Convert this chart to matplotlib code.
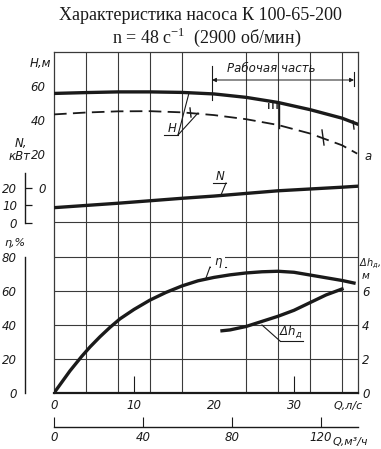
import matplotlib
matplotlib.use('Agg')
import matplotlib.pyplot as plt
from matplotlib.patches import Rectangle
from matplotlib import font_manager

# ---------------- data ----------------
Q_H = [0, 4, 8, 12, 16, 20, 24, 28, 32, 36, 38]
H = [55.7, 56.2, 56.6, 56.6, 56.3, 55.4, 53.4, 50.4, 46.2, 41.2, 37.6]
Q_Ha = [0, 4, 8, 12, 16, 20, 24, 28, 32, 36, 37.9]
H_a = [43.4, 44.5, 45.2, 45.3, 44.6, 43.0, 40.6, 37.2, 32.2, 25.3, 20.4]
Q_N = [0, 8, 16, 20, 28, 36, 38]
N = [8.7, 11.3, 14.2, 15.5, 18.6, 20.7, 21.3]
Q_eta = [0, 1, 2, 3.45, 4.5, 5.75, 7, 8.25, 10, 12, 14, 16, 18, 20, 22, 24, 26, 28, 30,
         32, 34, 36, 37.5]
eta = [0, 6.5, 13.0, 21.4, 27.0, 33.0, 38.5, 43.5, 49.0, 54.5, 59.0, 62.8, 65.8, 67.8,
       69.3, 70.4, 71.1, 71.4, 70.8, 69.2, 67.6, 66.0, 64.5]
Q_dh = [21, 22, 24, 26, 28, 30, 32, 34, 36]
dh = [3.65, 3.7, 3.9, 4.2, 4.5, 4.85, 5.3, 5.75, 6.1]

H_ticks = [0, 20, 40, 60]
N_ticks = [0, 10, 20]
eta_ticks = [0, 20, 40, 60, 80]
dh_ticks = [0, 2, 4, 6]
Q_ticks = [0, 10, 20, 30]
Qm_ticks = [0, 40, 80, 120]

# ---------------- fonts ----------------
avail = {f.name for f in font_manager.fontManager.ttflist}
LAB = 'Liberation Sans Narrow' if 'Liberation Sans Narrow' in avail else 'DejaVu Sans'
SERIF = 'Liberation Serif'
plt.rcParams['font.family'] = [LAB, 'DejaVu Sans']
plt.rcParams['font.style'] = 'italic'
plt.rcParams['font.size'] = 8.5
FS = 8.5
INK = '#1a1a1a'
GRID = '#3a3a3a'

W, HH = 381, 449
fig = plt.figure(figsize=(W / 100, HH / 100), dpi=100)
L, R, T, B = 54, 358, 52, 393
ax = fig.add_axes([L / W, (HH - B) / HH, (R - L) / W, (B - T) / HH])
PT = 72 / 100  # points per pixel


def fa(x, y):
    """pixel -> axes fraction"""
    return (x - L) / (R - L), (B - y) / (B - T)


# main axes: Q [l/s] vs H [m]
ax.set_xlim(0, 38)
ax.set_ylim(-120, 80)
ax.set_xticks([4 * i for i in range(1, 10)], minor=True)
ax.set_yticks([-120 + 20 * i for i in range(1, 10)], minor=True)
ax.grid(which='minor', color=GRID, lw=0.8)
ax.set_xticks(Q_ticks)
ax.set_xticklabels([str(v) for v in Q_ticks])
ax.set_yticks(H_ticks)
ax.set_yticklabels([str(v) for v in H_ticks])
ax.tick_params(axis='both', which='major', length=0, labelsize=FS, colors=INK)
ax.tick_params(axis='y', which='major', pad=6)
ax.tick_params(axis='x', which='major', pad=4)
ax.tick_params(axis='both', which='minor', length=0)
for s in ['top', 'left', 'right']:
    ax.spines[s].set_color(GRID)
    ax.spines[s].set_linewidth(0.9)
ax.spines['bottom'].set_linewidth(1.6)
ax.spines['bottom'].set_color(INK)
# small ticks at 10 and 30 l/s
for q in [10, 30]:
    ax.plot([q, q], [-120, -110], color=INK, lw=0.8, solid_capstyle='butt')

ax.plot(Q_H, H, color=INK, lw=2.4, solid_capstyle='round', zorder=5)
ax.plot(Q_Ha, H_a, color=INK, lw=1.3, dashes=(7, 3.5), zorder=5)


def left_axis(a, lo, hi):
    a.yaxis.tick_left()
    for s in ['top', 'bottom', 'right']:
        a.spines[s].set_visible(False)
    sp = a.spines['left']
    sp.set_visible(True)
    sp.set_position(('outward', 29 * PT))
    sp.set_bounds(lo, hi)
    sp.set_linewidth(1.0)
    sp.set_color(INK)


# N axis
axN = ax.twinx()
axN.set_ylim(-100, 100)
left_axis(axN, 0, 29)
axN.set_yticks(N_ticks)
axN.set_yticklabels([str(v) for v in N_ticks])
axN.tick_params(axis='y', direction='in', length=5, width=0.9, pad=5.5, labelsize=FS, colors=INK)
axN.plot(Q_N, N, color=INK, lw=2.4, zorder=5)

# eta axis
axE = ax.twinx()
axE.set_ylim(0, 200)
left_axis(axE, 0, 80)
axE.set_yticks(eta_ticks)
axE.set_yticklabels([str(v) for v in eta_ticks])
axE.set_yticks([0, 80], minor=True)
axE.tick_params(axis='y', which='major', length=0, pad=6, labelsize=FS, colors=INK)
axE.tick_params(axis='y', which='minor', direction='in', length=6, width=0.9, color=INK)
axE.plot(Q_eta, eta, color=INK, lw=2.4, zorder=5)

# dh axis
axD = ax.twinx()
axD.set_ylim(0, 20)
for s in ['top', 'bottom', 'left', 'right']:
    axD.spines[s].set_visible(False)
axD.set_yticks(dh_ticks)
axD.set_yticklabels([str(v) for v in dh_ticks])
axD.tick_params(axis='y', length=0, pad=3, labelsize=FS, colors=INK)
axD.plot(Q_dh, dh, color=INK, lw=2.4, zorder=5)

# secondary Q axis, m3/h
sec = ax.secondary_xaxis(-(427 - B) / (B - T), functions=(lambda q: q * 3.6, lambda m: m / 3.6))
sec.set_xticks(Qm_ticks)
sec.set_xticklabels([str(v) for v in Qm_ticks])
sec.tick_params(direction='in', length=7, width=0.8, pad=3, labelsize=FS, colors=INK)
sec.spines['bottom'].set_bounds(0, 38 * 3.6)
sec.spines['bottom'].set_linewidth(1.0)
sec.spines['bottom'].set_color(INK)

tA = ax.transAxes
kw = dict(transform=tA, color=INK, style='italic', clip_on=False)

# axis names
ax.text(*fa(334, 406), 'Q,л/с', ha='left', va='center', fontsize=8, **kw)
ax.text(*fa(333, 442), 'Q,м³/ч', ha='left', va='center', fontsize=8, **kw)
ax.text(*fa(40, 63), 'H,м', ha='center', va='center', fontsize=FS, **kw)
ax.text(*fa(21, 143), 'N,', ha='center', va='center', fontsize=FS, **kw)
ax.text(*fa(20, 156), 'кВт', ha='center', va='center', fontsize=FS, **kw)
ax.text(*fa(15, 243), 'η,%', ha='center', va='center', fontsize=8, **kw)
ax.text(*fa(359, 264), r'$\Delta h_{д}$,', ha='left', va='center', fontsize=7, **kw)
ax.text(*fa(362, 276), 'м', ha='left', va='center', fontsize=7.5, **kw)


def seg(p, q, lw=0.8):
    x0, y0 = fa(*p)
    x1, y1 = fa(*q)
    ax.plot([x0, x1], [y0, y1], transform=tA, color=INK, lw=lw, clip_on=False, zorder=6)


# curve labels with leaders
ax.text(*fa(172, 128), 'H', ha='center', va='center', fontsize=FS, **kw)
seg((164, 135), (178, 135))
seg((178, 135), (189, 93))
seg((178, 135), (198, 113))

ax.text(*fa(220, 176), 'N', ha='center', va='center', fontsize=FS, **kw)
seg((213, 183), (226, 183))
seg((226, 183), (221, 195))

ax.text(*fa(218, 261), 'η', ha='center', va='center', fontsize=FS,
        bbox=dict(boxstyle='square,pad=0.25', fc='white', ec='none'), zorder=7, **kw)
seg((210, 267), (226, 267))
seg((210, 267), (206, 278))

ax.text(*fa(291, 332), r'$\Delta h_{д}$', ha='center', va='center', fontsize=FS, **kw)
seg((280, 341), (303, 341))
seg((280, 341), (262, 325))

ax.text(*fa(365, 156), 'a', ha='left', va='center', fontsize=FS, **kw)

# working region
ax.text(*fa(271, 68), 'Рабочая часть', ha='center', va='center', fontsize=FS, **kw)
ax.annotate('', xy=fa(354, 80), xytext=fa(212, 80), xycoords=tA, textcoords=tA,
            arrowprops=dict(arrowstyle='<|-|>', color=INK, lw=0.7, mutation_scale=6,
                            shrinkA=0, shrinkB=0))
seg((212, 66), (212, 100))
seg((354, 72), (354, 86))
seg((353, 121), (354, 129), lw=1.0)
seg((190, 108), (191, 117), lw=1.0)
seg((322, 130), (324, 145), lw=1.0)

# hatched mark at Q=28
seg((279, 103), (279, 128), lw=1.0)
x0, y0 = fa(268, 109)
x1, y1 = fa(279, 103)
ax.add_patch(Rectangle((x0, y0), x1 - x0, y1 - y0, transform=tA, fill=False,
                       hatch='||||', lw=0, edgecolor=INK, zorder=6))

# title
fig.text(200 / W, 1 - 15 / HH, 'Характеристика насоса К 100-65-200', ha='center', va='center',
         family=SERIF, style='normal', fontsize=13, color=INK)
fig.text(207 / W, 1 - 37 / HH, 'n = 48 с$^{\\mathregular{-1}}$  (2900 об/мин)', ha='center',
         va='center', family=SERIF, style='normal', fontsize=13, color=INK)

fig.savefig('out.png', dpi=100, facecolor='white')
